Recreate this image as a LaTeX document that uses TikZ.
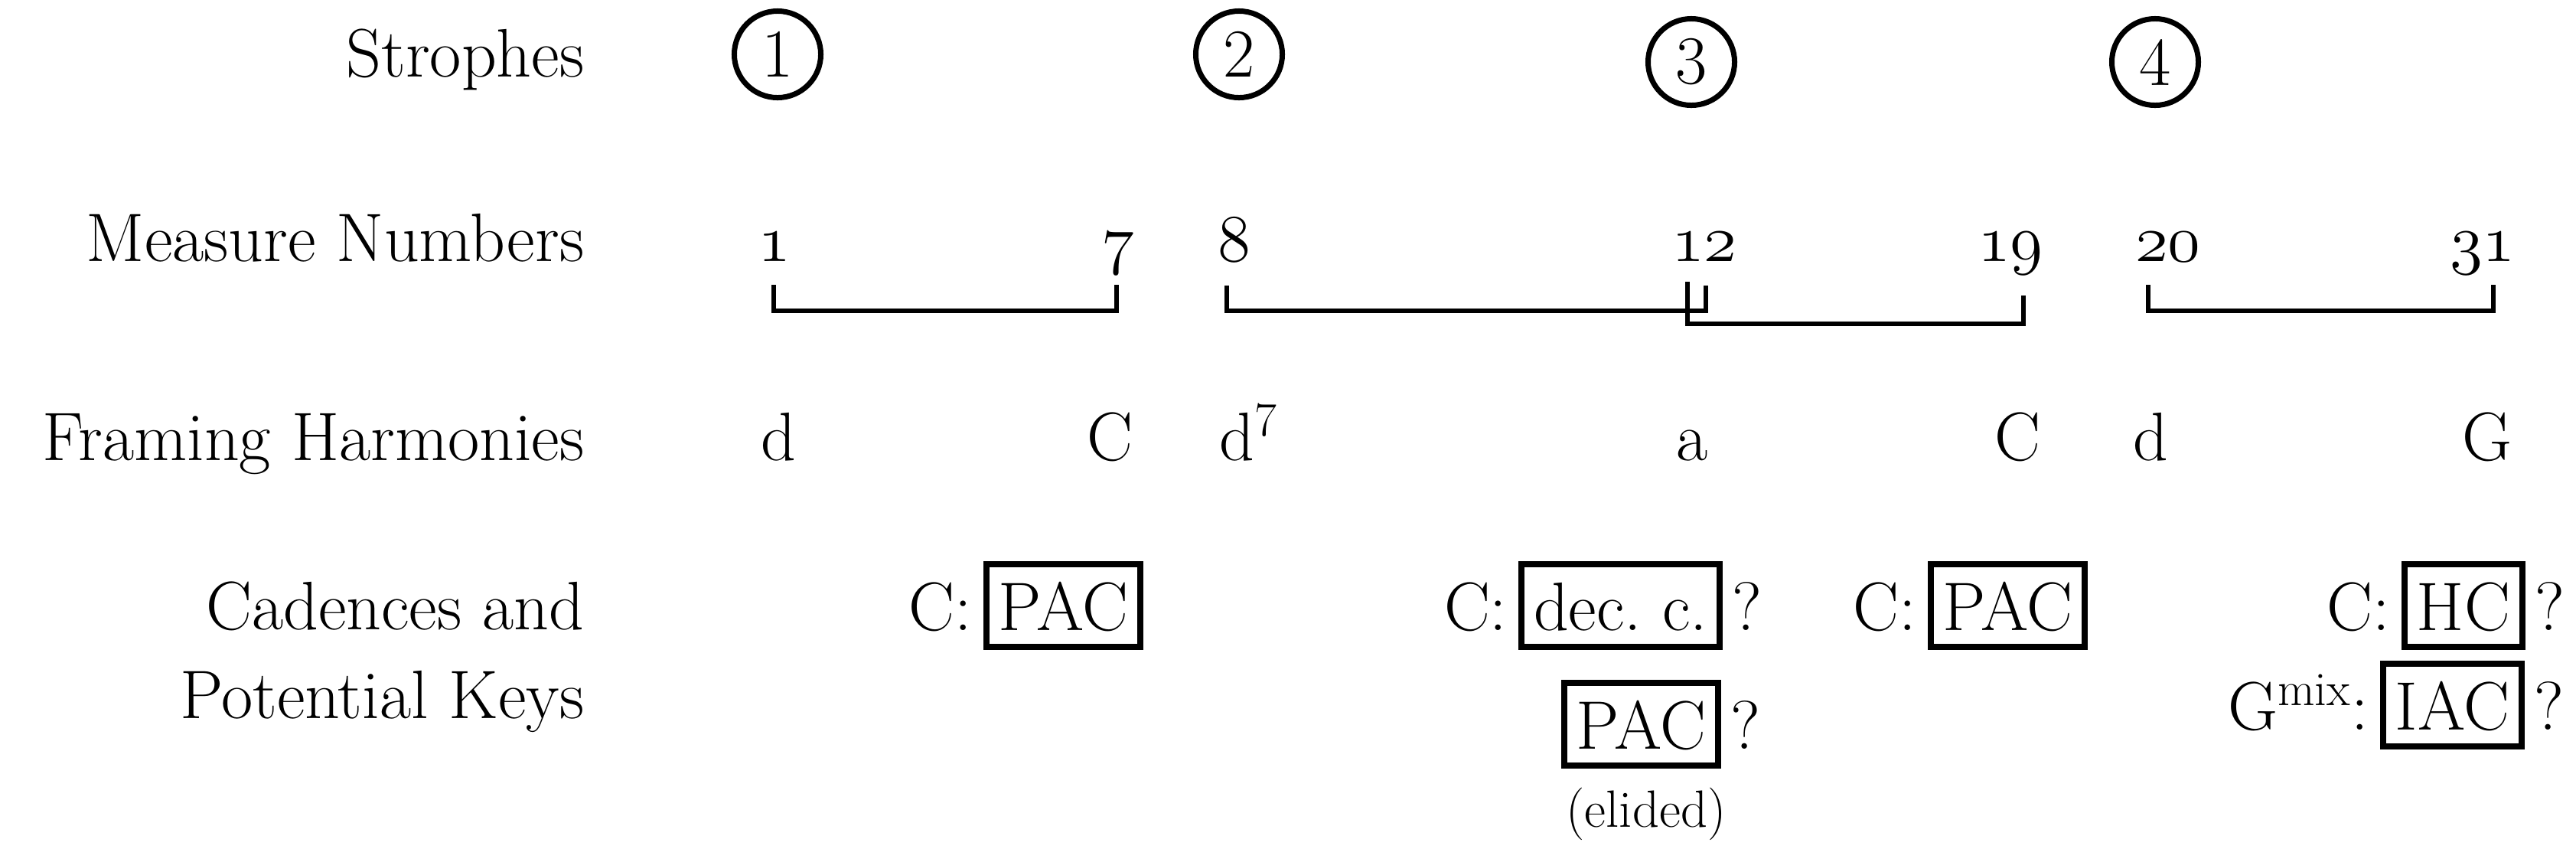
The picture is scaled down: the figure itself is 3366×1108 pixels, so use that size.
\documentclass[tikz,border=0pt]{standalone}
\newcommand\osnum[1]{{\fontencoding{OML}\fontfamily{lmm}\fontseries{m}\fontshape{it}\selectfont #1}}
\begin{document}
\begin{tikzpicture}[x=0.01cm,y=-0.01cm,
  every node/.style={font=\fontsize{25.5}{30}\selectfont, inner sep=0pt},
  lbl/.style={anchor=base east},
  txt/.style={anchor=base},
  strophe/.style={draw, circle, line width=0.07cm, minimum size=1.13cm},
  cad/.style={draw, line width=0.08cm, text height=0.64cm, text depth=0cm,
              inner ysep=0.22cm, inner xsep=0.16cm, anchor=base east},
  brk/.style={line width=0.065cm, line cap=butt, line join=miter},
  small/.style={font=\fontsize{19.5}{23}\selectfont}]
\useasboundingbox (0,0) rectangle (3366,1108);

% row labels
\node[lbl] (l1) at (764,100) {Strophes};
\node[lbl] (l2) at (764,341) {Measure Numbers};
\node[lbl] (l3) at (764,601) {Framing Harmonies};
\node[lbl] (l4) at (764,822) {Cadences and};
\node[lbl] (l5) at (764,938) {Potential Keys};

% strophes
\node[strophe] (s1) at (1016,71) {1};
\node[strophe] (s2) at (1619,71) {2};
\node[strophe] (s3) at (2210,81) {3};
\node[strophe] (s4) at (2816,81) {4};

% measure numbers
\node[txt] (m1) at (1012,341) {\osnum{1}};
\node[txt] (m2) at (1461,341) {\osnum{7}};
\node[txt] (m3) at (1613,341) {\osnum{8}};
\node[txt] (m4) at (2227,341) {\osnum{12}};
\node[txt] (m5) at (2627,341) {\osnum{19}};
\node[txt] (m6) at (2833,341) {\osnum{20}};
\node[txt] (m7) at (3244,341) {\osnum{31}};

% brackets
\coordinate (b1a) at (1011,372); \coordinate (b1b) at (1459,372);
\coordinate (b2a) at (1603,373); \coordinate (b2b) at (2229,373);
\coordinate (b3a) at (2205,368); \coordinate (b3b) at (2644,386);
\coordinate (b4a) at (2807,372); \coordinate (b4b) at (3258,372);
\draw[brk] (b1a) -- ++(0,34) -| (b1b);
\draw[brk] (b2a) -- ++(0,33) -| (b2b);
\draw[brk] (b3a) -- ++(0,55) -| (b3b);
\draw[brk] (b4a) -- ++(0,34) -| (b4b);

% framing harmonies
\node[txt] (h1) at (1017,601) {d};
\node[txt] (h2) at (1450,601) {C};
\node[anchor=base west] (h3) at (1593,601) {d\textsuperscript{7}};
\node[txt] (h4) at (2211,601) {a};
\node[txt] (h5) at (2636,601) {C};
\node[txt] (h6) at (2810,601) {d};
\node[txt] (h7) at (3250,601) {G};

% cadences
\node[cad] (k1) at (1494,823) {PAC};
\node[anchor=base east] (k1c) at ([xshift=-0.14cm]k1.base west) {C:};

\node[cad] (k2) at (2251,823) {dec.\ c.};
\node[anchor=base east] (k2c) at ([xshift=-0.14cm]k2.base west) {C:};
\node[anchor=base west] (k2q) at ([xshift=0.12cm]k2.base east) {?};

\node[cad] (k3) at (2249,978) {PAC};
\node[anchor=base west] (k3q) at ([xshift=0.12cm]k3.base east) {?};
\node[small, anchor=base] (el) at (2151,1080) {(elided)};

\node[cad] (k4) at (2728,823) {PAC};
\node[anchor=base east] (k4c) at ([xshift=-0.14cm]k4.base west) {C:};

\node[cad] (k5) at (3300,823) {HC};
\node[anchor=base east] (k5c) at ([xshift=-0.14cm]k5.base west) {C:};
\node[anchor=base west] (k5q) at ([xshift=0.12cm]k5.base east) {?};

\node[cad] (k6) at (3299,953) {IAC};
\node[anchor=base east] (k6c) at ([xshift=-0.14cm]k6.base west) {G\textsuperscript{mix}:};
\node[anchor=base west] (k6q) at ([xshift=0.12cm]k6.base east) {?};
\end{tikzpicture}
\end{document}
